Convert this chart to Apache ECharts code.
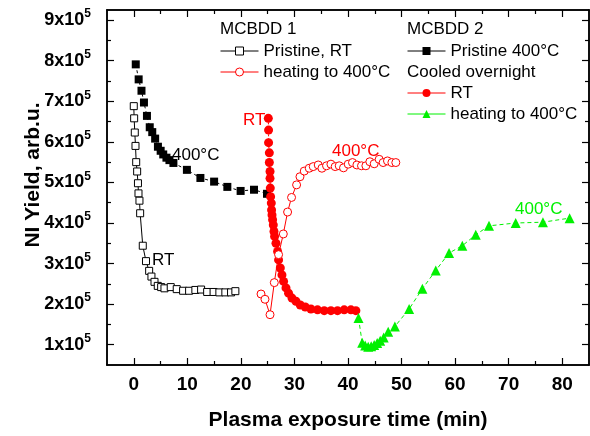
<!DOCTYPE html>
<html><head><meta charset="utf-8">
<script src="https://cdn.jsdelivr.net/npm/echarts@6/dist/echarts.min.js"></script>
<style>html,body{margin:0;padding:0;background:#fff}#c{width:590px;height:436px}</style>
</head><body><div id="c"></div>
<script>
// ---------- data ----------
const xPristineRT = [0.0, 0.07, 0.19, 0.32, 0.45, 0.63, 0.78, 0.88, 1.06, 1.19, 1.68, 2.28, 2.87, 3.30, 3.87, 4.48, 5.11, 5.73, 6.90, 8.02, 9.21, 10.33, 11.5, 12.57, 13.7, 14.9, 15.98, 17.1, 18.16, 18.97];
const yPristineRT = [688000, 658000, 623000, 590000, 550000, 527000, 498000, 473000, 455000, 424000, 344000, 306000, 282000, 268000, 255000, 245000, 242000, 239000, 242000, 237000, 233000, 233000, 235000, 236000, 230000, 230000, 229000, 229000, 229000, 232000];

const xPristine400 = [0.37, 0.91, 1.44, 1.90, 2.46, 2.98, 3.45, 3.99, 4.51, 5.02, 5.50, 6.10, 6.66, 7.40, 9.92, 12.44, 15.0, 17.47, 19.95, 22.45, 24.88];
const yPristine400 = [791000, 754000, 726000, 697000, 664000, 636000, 624000, 608000, 588000, 578000, 569000, 561000, 555000, 548000, 531000, 511000, 502000, 489000, 479000, 482000, 472000];

const xHeating1 = [23.76, 24.50, 25.44, 26.24, 27.04, 27.92, 28.72, 29.46, 30.40, 31.03, 31.83, 32.76, 33.51, 34.44, 35.13, 35.99, 36.81, 37.61, 38.36, 39.16, 40.04, 40.84, 41.66, 42.52, 43.34, 44.08, 44.89, 45.82, 46.56, 47.37, 48.19, 48.93];
const yHeating1 = [225000, 212000, 174000, 253000, 322000, 373000, 427000, 463000, 494000, 514000, 528000, 535000, 539000, 543000, 535000, 541000, 545000, 539000, 541000, 536000, 545000, 549000, 543000, 541000, 541000, 551000, 546000, 557000, 549000, 553000, 549000, 549000];

const xCooledRT = [25.12, 25.17, 25.17, 25.31, 25.31, 25.44, 25.44, 25.49, 25.55, 25.68, 25.73, 25.81, 25.92, 26.05, 26.18, 26.29, 26.55, 26.85, 27.04, 27.36, 27.67, 27.97, 28.42, 28.90, 29.54, 30.28, 31.09, 32.02, 33.08, 34.31, 35.56, 36.81, 38.04, 39.29, 40.54, 41.47];
const yCooledRT = [658000, 629000, 598000, 573000, 549000, 527000, 510000, 486000, 465000, 449000, 432000, 420000, 408000, 395000, 379000, 367000, 350000, 330000, 309000, 289000, 272000, 256000, 240000, 227000, 215000, 207000, 198000, 193000, 188000, 186000, 184000, 184000, 184000, 186000, 186000, 184000];

const xHeating2 = [41.96, 42.65, 43.21, 43.77, 44.33, 44.89, 45.45, 46.01, 46.66, 47.50, 48.75, 51.41, 53.89, 56.39, 58.87, 61.35, 63.85, 66.33, 71.31, 76.40, 81.38];
const yHeating2 = [166000, 105000, 98000, 95000, 96000, 99000, 104000, 110000, 118000, 132000, 145000, 188000, 238000, 283000, 326000, 344000, 371000, 393000, 400000, 402000, 412000];

const xMajorTicks = [0, 10, 20, 30, 40, 50, 60, 70, 80];
const xMinorTicks = [5, 15, 25, 35, 45, 55, 65, 75];
const yMajorTicks = [100000, 200000, 300000, 400000, 500000, 600000, 700000, 800000, 900000];
const yMinorTicks = [150000, 250000, 350000, 450000, 550000, 650000, 750000, 850000];

const xTitle = 'Plasma exposure time (min)';
const yTitle = 'NI Yield, arb.u.';

// ---------- chart ----------
const FONT = '"Liberation Sans", Arial, Helvetica, sans-serif';
const RED = '#ff0000', GREEN = '#00f000', BLACK = '#000000';
const pairs = (xs, ys) => xs.map((x, i) => [x, ys[i]]);

function xAx(pos, ticks, len, labels) {
  return {
    type: 'value', position: pos, min: -5, max: 85, gridIndex: 0,
    axisLine: { show: true, onZero: false, lineStyle: { color: BLACK, width: 1.5 } },
    axisTick: { show: true, inside: true, length: len, customValues: ticks, lineStyle: { color: BLACK, width: 1.2 } },
    axisLabel: labels ? { show: true, customValues: ticks, margin: 10, color: BLACK, fontFamily: FONT, fontWeight: 'bold', fontSize: 19 } : { show: false },
    splitLine: { show: false }
  };
}
function yAx(pos, ticks, len, labels) {
  return {
    type: 'value', position: pos, min: 50000, max: 925000, gridIndex: 0,
    axisLine: { show: true, onZero: false, lineStyle: { color: BLACK, width: 1.5 } },
    axisTick: { show: true, inside: true, length: len, customValues: ticks, lineStyle: { color: BLACK, width: 1.2 } },
    axisLabel: labels ? {
      show: true, customValues: ticks, margin: 16, color: BLACK,
      formatter: v => '{b|' + Math.round(v / 100000) + 'x10}{s|5}',
      rich: {
        b: { fontFamily: FONT, fontWeight: 'bold', fontSize: 18, lineHeight: 24, color: BLACK },
        s: { fontFamily: FONT, fontWeight: 'bold', fontSize: 12, lineHeight: 12, verticalAlign: 'top', color: BLACK }
      }
    } : { show: false },
    splitLine: { show: false }
  };
}

function legendFor(name, left, centerY) {
  return {
    data: [name], left: left, top: centerY - 9, padding: 0, orient: 'vertical',
    itemWidth: 38, itemHeight: 10, selectedMode: false,
    formatter: n => n.replace(/ #\d$/, ''),
    textStyle: { fontFamily: FONT, fontSize: 17, lineHeight: 18, color: BLACK },
    lineStyle: { type: 'solid', width: 1 },
    itemStyle: { borderWidth: 1 }
  };
}

function txt(text, left, cy, color) {
  return { type: 'text', left: left, top: cy - 9, z: 0,
    style: { text: text, fill: color, font: '17px ' + FONT, lineHeight: 18 } };
}

const option = {
  animation: false,
  backgroundColor: '#ffffff',
  grid: { left: 107, right: 1, top: 10, bottom: 71, containLabel: false },
  xAxis: [
    Object.assign(xAx('bottom', xMajorTicks, 7, true), {
      name: xTitle, nameLocation: 'middle', nameGap: 45,
      nameTextStyle: { fontFamily: FONT, fontWeight: 'bold', fontSize: 21, color: BLACK }
    }),
    xAx('bottom', xMinorTicks, 4, false),
    xAx('top', xMajorTicks, 7, false),
    xAx('top', xMinorTicks, 4, false)
  ],
  yAxis: [
    yAx('left', yMajorTicks, 7, true),
    yAx('left', yMinorTicks, 4, false),
    yAx('right', yMajorTicks, 7, false),
    yAx('right', yMinorTicks, 4, false)
  ],
  legend: [
    legendFor('Pristine, RT', 220, 51),
    legendFor('heating to 400°C #1', 220, 72),
    legendFor('Pristine 400°C', 407, 51),
    legendFor('RT', 407, 93),
    legendFor('heating to 400°C #2', 407, 114)
  ],
  graphic: [
    txt('MCBDD 1', 220, 29, BLACK),
    txt('MCBDD 2', 407, 29, BLACK),
    txt('Cooled overnight', 407, 72, BLACK),
    txt('400°C', 172, 155, BLACK),
    txt('RT', 152, 260, BLACK),
    txt('RT', 243, 120, RED),
    txt('400°C', 332, 151, RED),
    txt('400°C', 515, 209, GREEN),
    { type: 'text', rotation: Math.PI / 2, x: 33, y: 175,
      style: { text: yTitle, fill: BLACK, font: 'bold 21px ' + FONT, align: 'center', verticalAlign: 'middle' } }
  ],
  series: [
    { name: 'Pristine, RT', type: 'line', data: pairs(xPristineRT, yPristineRT),
      symbol: 'rect', symbolSize: 7, showAllSymbol: true,
      lineStyle: { color: BLACK, width: 1 },
      itemStyle: { color: '#ffffff', borderColor: BLACK, borderWidth: 1 } },
    { name: 'Pristine 400°C', type: 'line', data: pairs(xPristine400, yPristine400),
      symbol: 'rect', symbolSize: 8, showAllSymbol: true,
      lineStyle: { color: BLACK, width: 1, type: [3, 3] },
      itemStyle: { color: BLACK } },
    { name: 'RT', type: 'line', data: pairs(xCooledRT, yCooledRT),
      symbol: 'circle', symbolSize: 9, showAllSymbol: true,
      lineStyle: { color: RED, width: 1, type: [2, 2] },
      itemStyle: { color: RED } },
    { name: 'heating to 400°C #1', type: 'line', data: pairs(xHeating1, yHeating1),
      symbol: 'circle', symbolSize: 8, showAllSymbol: true,
      lineStyle: { color: RED, width: 1 },
      itemStyle: { color: '#ffffff', borderColor: RED, borderWidth: 1 } },
    { name: 'heating to 400°C #2', type: 'line', data: pairs(xHeating2, yHeating2),
      symbol: 'triangle', symbolSize: 10, showAllSymbol: true,
      lineStyle: { color: GREEN, width: 1, type: [4, 3] },
      itemStyle: { color: GREEN } }
  ]
};
const chart = echarts.init(document.getElementById('c'));
chart.setOption(option);
</script></body></html>
